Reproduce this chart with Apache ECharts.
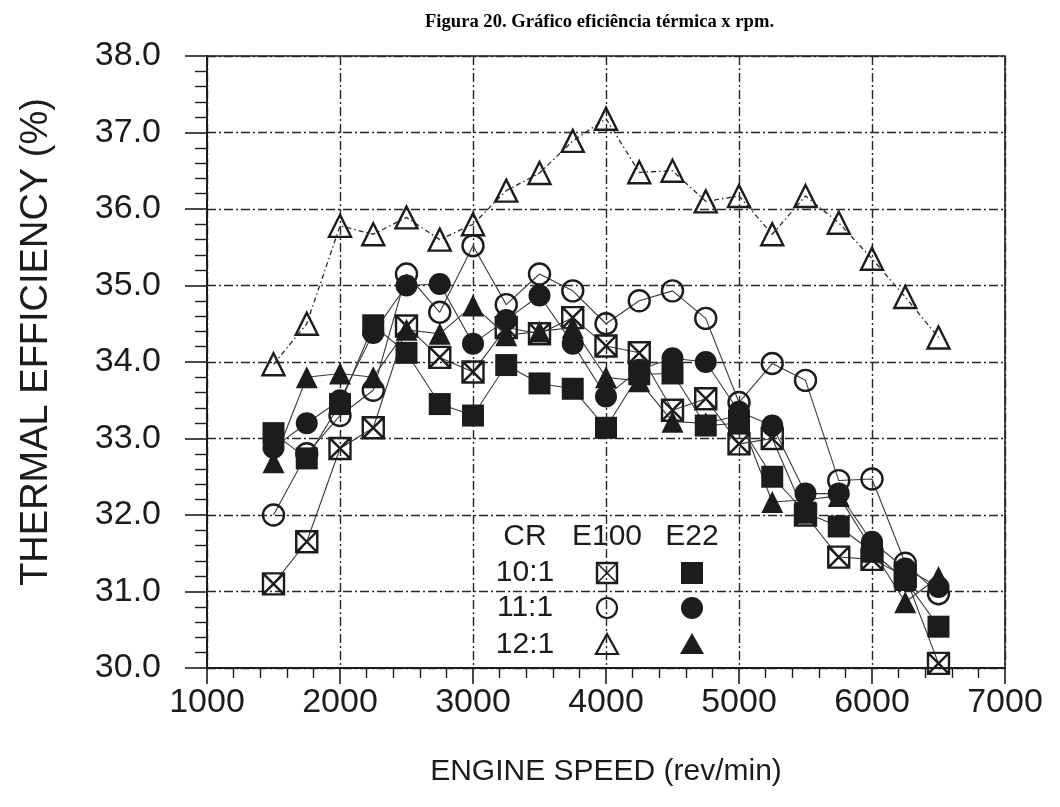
<!DOCTYPE html>
<html>
<head>
<meta charset="utf-8">
<script src="https://cdn.jsdelivr.net/npm/echarts@6/dist/echarts.min.js"></script>
<style>
  html, body { margin: 0; padding: 0; background: #ffffff; }
  #chart { width: 1060px; height: 807px; }
</style>
</head>
<body>
<div id="chart"></div>
<script>
// Engine speed (rev/min) at which each point was measured
const rpm = [1500, 1750, 2000, 2250, 2500, 2750, 3000, 3250, 3500, 3750, 4000,
             4250, 4500, 4750, 5000, 5250, 5500, 5750, 6000, 6250, 6500];

// Thermal efficiency (%) per fuel and compression ratio
const e100_cr10 = [31.10, 31.65, 32.87, 33.14, 34.47, 34.06, 33.87, 34.45, 34.37, 34.58, 34.21,
                   34.12, 33.37, 33.52, 32.93, 33.00, 32.00, 31.45, 31.42, 31.20, 30.06];
const e22_cr10  = [33.07, 32.74, 33.45, 34.48, 34.12, 33.45, 33.30, 33.96, 33.72, 33.65, 33.14,
                   33.84, 33.85, 33.17, 33.20, 32.50, 32.03, 31.85, 31.52, 31.15, 30.54];
const e100_cr11 = [32.00, 32.80, 33.30, 33.63, 35.15, 34.65, 35.52, 34.75, 35.15, 34.93, 34.50,
                   34.80, 34.93, 34.57, 33.47, 33.98, 33.76, 32.45, 32.47, 31.37, 30.97];
const e22_cr11  = [32.88, 33.20, 33.50, 34.38, 35.00, 35.02, 34.24, 34.55, 34.87, 34.24, 33.55,
                   33.90, 34.05, 34.00, 33.35, 33.17, 32.28, 32.28, 31.65, 31.30, 31.06];
const e100_cr12 = [33.97, 34.50, 35.78, 35.67, 35.89, 35.60, 35.80, 36.24, 36.47, 36.89, 37.18,
                   36.48, 36.50, 36.10, 36.17, 35.67, 36.17, 35.82, 35.35, 34.85, 34.32];
const e22_cr12  = [32.69, 33.80, 33.85, 33.80, 34.42, 34.37, 34.74, 34.35, 34.40, 34.45, 33.80,
                   33.75, 33.22, 33.20, 33.30, 32.17, 32.20, 32.25, 31.55, 30.86, 31.19];

// Axis settings
const xMin = 1000, xMax = 7000, xStep = 1000;
const yMin = 30, yMax = 38, yStep = 1;

// Legend table text
const legendHeader = ['CR', 'E100', 'E22'];
const legendRows = ['10:1', '11:1', '12:1'];

const INK = '#1c1c1c';
const FONT = '"Liberation Sans", Arial, sans-serif';
const CROSSED_SQUARE = 'path://M0,0L20,0L20,20L0,20Z M0,0L20,20 M20,0L0,20';

function pairs(values) {
  return rpm.map((x, i) => [x, values[i]]);
}

function makeSeries(name, values, symbol, filled, dashed, size) {
  return {
    name: name,
    type: 'line',
    data: pairs(values),
    symbol: symbol,
    symbolSize: size,
    lineStyle: {
      color: dashed ? '#2a2a2a' : '#3a3a3a',
      width: dashed ? 1.3 : 1.1,
      type: dashed ? [5, 3, 1.5, 3] : 'solid'
    },
    itemStyle: filled
      ? { color: INK, borderColor: INK, borderWidth: 0 }
      : { color: 'rgba(255,255,255,0)', borderColor: INK, borderWidth: 2.4 },
    emphasis: { disabled: true },
    z: filled ? 3 : 2
  };
}

// Legend drawn as a small table: symbols for E100 (open) and E22 (filled)
const colE100 = 607, colE22 = 692, colCR = 525;
const rowY = [573, 608, 645];
const headerY = 537;
const legendGraphics = [];
legendHeader.forEach((t, i) => {
  legendGraphics.push({
    type: 'text', x: [colCR, colE100, colE22][i], y: headerY,
    style: { text: t, font: '30px ' + FONT, fill: INK, textAlign: 'center', textVerticalAlign: 'middle' }
  });
});
legendRows.forEach((t, i) => {
  legendGraphics.push({
    type: 'text', x: colCR, y: rowY[i],
    style: { text: t, font: '30px ' + FONT, fill: INK, textAlign: 'center', textVerticalAlign: 'middle' }
  });
});
const h = 10;
// 10:1 E100 crossed square
legendGraphics.push({
  type: 'group', x: colE100, y: rowY[0],
  children: [
    { type: 'rect', shape: { x: -h, y: -h, width: 2 * h, height: 2 * h }, style: { fill: 'none', stroke: INK, lineWidth: 2.4 } },
    { type: 'line', shape: { x1: -h, y1: -h, x2: h, y2: h }, style: { stroke: INK, lineWidth: 1.6 } },
    { type: 'line', shape: { x1: h, y1: -h, x2: -h, y2: h }, style: { stroke: INK, lineWidth: 1.6 } }
  ]
});
// 10:1 E22 filled square
legendGraphics.push({ type: 'rect', shape: { x: colE22 - 11, y: rowY[0] - 11, width: 22, height: 22 }, style: { fill: INK } });
// 11:1 circles
legendGraphics.push({ type: 'circle', shape: { cx: colE100, cy: rowY[1], r: 10 }, style: { fill: 'none', stroke: INK, lineWidth: 2.2 } });
legendGraphics.push({ type: 'circle', shape: { cx: colE22, cy: rowY[1], r: 11 }, style: { fill: INK } });
// 12:1 triangles
legendGraphics.push({ type: 'polygon', shape: { points: [[colE100, rowY[2] - 11], [colE100 + 11, rowY[2] + 9], [colE100 - 11, rowY[2] + 9]] }, style: { fill: 'none', stroke: INK, lineWidth: 2.2 } });
legendGraphics.push({ type: 'polygon', shape: { points: [[colE22, rowY[2] - 12], [colE22 + 12, rowY[2] + 9], [colE22 - 12, rowY[2] + 9]] }, style: { fill: INK } });

// Vertical axis title
legendGraphics.push({
  type: 'text', x: 37, y: 342, rotation: Math.PI / 2,
  style: { text: 'THERMAL EFFICIENCY (%)', font: '38px ' + FONT, fill: INK, textAlign: 'center', textVerticalAlign: 'middle' }
});

const gridLine = { show: true, lineStyle: { color: '#262626', width: 1.4, type: [9, 3, 2, 3] } };

const option = {
  backgroundColor: '#ffffff',
  animation: false,
  title: {
    text: 'Figura 20. Gráfico eficiência térmica x rpm.',
    left: 420, top: 8,
    textStyle: { fontFamily: '"Liberation Serif", "Times New Roman", serif', fontWeight: 'bold', fontSize: 18.6, color: '#000' }
  },
  grid: {
    left: 207, right: 55, top: 56, bottom: 139,
    show: true, borderColor: INK, borderWidth: 1.6, backgroundColor: 'transparent'
  },
  xAxis: {
    type: 'value', min: xMin, max: xMax, interval: xStep,
    name: 'ENGINE SPEED (rev/min)', nameLocation: 'middle', nameGap: 89,
    nameTextStyle: { fontFamily: FONT, fontSize: 30, color: INK },
    axisLine: { show: true, lineStyle: { color: INK, width: 2 } },
    axisTick: { show: true, length: 16, lineStyle: { color: INK, width: 1.6 } },
    minorTick: { show: true, splitNumber: 5, length: 10, lineStyle: { color: INK, width: 1.4 } },
    axisLabel: { fontFamily: FONT, fontSize: 34, color: INK, margin: 18, formatter: v => String(v) },
    splitLine: gridLine
  },
  yAxis: {
    type: 'value', min: yMin, max: yMax, interval: yStep,
    axisLine: { show: true, lineStyle: { color: INK, width: 2 } },
    axisTick: { show: true, length: 22, lineStyle: { color: INK, width: 1.6 } },
    minorTick: { show: true, splitNumber: 5, length: 12, lineStyle: { color: INK, width: 1.4 } },
    axisLabel: { fontFamily: FONT, fontSize: 34, color: INK, margin: 46, formatter: v => v.toFixed(1) },
    splitLine: gridLine
  },
  graphic: legendGraphics,
  series: [
    makeSeries('E100 12:1', e100_cr12, 'triangle', false, true, 22),
    makeSeries('E100 11:1', e100_cr11, 'circle', false, false, 21),
    makeSeries('E100 10:1', e100_cr10, CROSSED_SQUARE, false, false, 21),
    makeSeries('E22 12:1', e22_cr12, 'triangle', true, false, 22),
    makeSeries('E22 11:1', e22_cr11, 'circle', true, false, 22),
    makeSeries('E22 10:1', e22_cr10, 'rect', true, false, 22)
  ]
};

const chart = echarts.init(document.getElementById('chart'), null, { renderer: 'canvas' });
chart.setOption(option);
</script>
</body>
</html>
